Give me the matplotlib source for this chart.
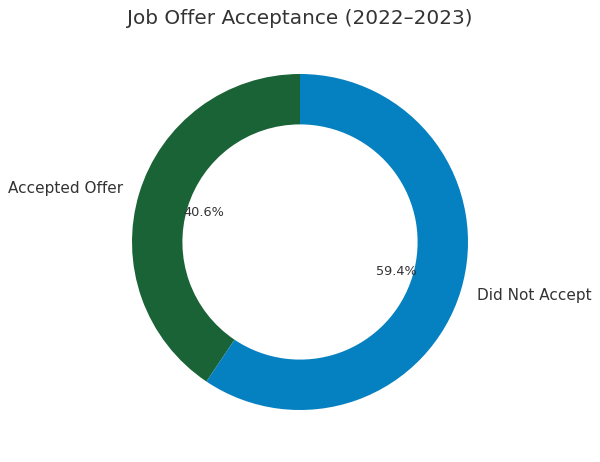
import matplotlib
matplotlib.use("Agg")
import matplotlib.pyplot as plt

labels = ['Accepted Offer', 'Did Not Accept']
values = [40.6, 59.4]
colors = ['#1a6336', '#0580c0']

fig = plt.figure(figsize=(6, 4.62), dpi=100)
ax = fig.add_axes([0, 0, 1, 1])
wedges, texts, autotexts = ax.pie(values, labels=labels, colors=colors,
                                  autopct='%1.1f%%', startangle=90,
                                  pctdistance=0.6, labeldistance=1.1,
                                  wedgeprops=dict(width=0.3),
                                  textprops=dict(color='#333333', fontsize=11))
for t in autotexts:
    t.set_fontsize(9.3)
# place the donut: centre (300, 242) px, radius 168 px
ax.set_aspect('auto')
ax.set_xlim(-300 / 168, 300 / 168)
ax.set_ylim(-(462 - 242) / 168, 242 / 168)
fig.text(0.5, 1 - 18 / 462, 'Job Offer Acceptance (2022–2023)', fontsize=14.4,
         color='#333333', ha='center', va='center')
plt.savefig('out.png')
plt.close()
